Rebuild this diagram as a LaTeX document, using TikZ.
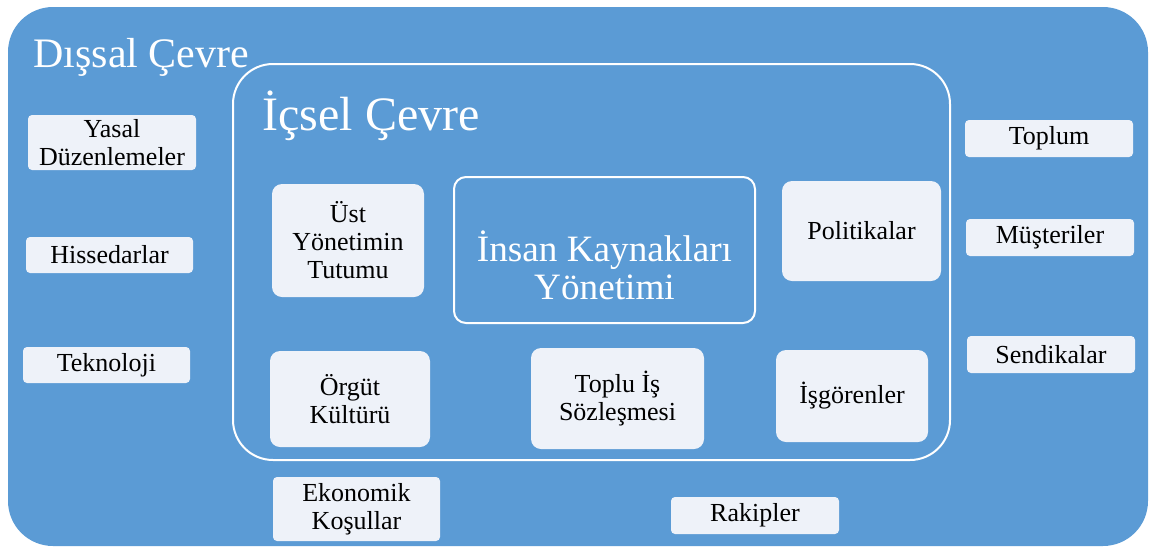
\documentclass[tikz,border=0pt]{standalone}
\usepackage{fontspec}
\setmainfont{Liberation Serif}
\definecolor{mavi}{RGB}{91,155,213}
\definecolor{acik}{RGB}{238,242,249}

\begin{document}
\begin{tikzpicture}[x=0.5pt, y=-0.5pt,
    dis/.style = {fill=acik, rounded corners=2pt, inner sep=0pt, align=center, font=\fontsize{13}{14}\selectfont},
    ic/.style = {fill=acik, rounded corners=5pt, inner sep=0pt, align=center, font=\fontsize{13}{14}\selectfont},
    baslik/.style = {white, anchor=base west, inner sep=0pt}]
    \useasboundingbox (0,0) rectangle (1158,547);
    \fill[mavi, rounded corners=22.5pt] (8,7) rectangle (1148,546);
    \draw[white, line width=1pt, rounded corners=20pt] (233,64) rectangle (950,460);
    \node[baslik, font=\fontsize{21}{24}\selectfont] (disc) at (33,67) {Dışsal Çevre};
    \node[baslik, font=\fontsize{24}{28}\selectfont] (icc) at (262,130) {İçsel Çevre};
    \node[dis, minimum width=84pt, minimum height=27.5pt] (yasal) at (112,142.5) {Yasal\\Düzenlemeler};
    \node[dis, minimum width=83.5pt, minimum height=18pt] (hisse) at (109.5,255) {Hissedarlar};
    \node[dis, minimum width=83.5pt, minimum height=18pt] (tekno) at (106.5,365) {Teknoloji};
    \node[dis, minimum width=83.5pt, minimum height=32pt] (ekon) at (356.5,509) {Ekonomik\\Koşullar};
    \node[dis, minimum width=84pt, minimum height=18.5pt] (rakip) at (755,515.5) {Rakipler};
    \node[dis, minimum width=84pt, minimum height=18.5pt] (toplum) at (1049,138.5) {Toplum};
    \node[dis, minimum width=84pt, minimum height=18.5pt] (muster) at (1050,237.5) {Müşteriler};
    \node[dis, minimum width=84pt, minimum height=18.5pt] (sendika) at (1051,354.5) {Sendikalar};
    \node[ic, minimum width=76pt, minimum height=56.5pt] (ust) at (348,240.5) {Üst\\Yönetimin\\Tutumu};
    \node[ic, minimum width=79.5pt, minimum height=50pt] (polit) at (861.5,231) {Politikalar};
    \node[ic, minimum width=80pt, minimum height=48pt] (orgut) at (350,399) {Örgüt\\Kültürü};
    \node[ic, minimum width=86.5pt, minimum height=50.5pt] (toplu) at (617.5,398.5) {Toplu İş\\Sözleşmesi};
    \node[ic, minimum width=76pt, minimum height=46pt] (isgoren) at (852,396) {İşgörenler};
    \node[draw=white, line width=1pt, rounded corners=6pt, minimum width=150.5pt, minimum height=73pt] (ikm) at (604.5,250) {};
    \node[white, align=center, font=\fontsize{18.6}{19}\selectfont] (ikmyazi) at (604.5,265) {İnsan Kaynakları\\Yönetimi};
\end{tikzpicture}
\end{document}
